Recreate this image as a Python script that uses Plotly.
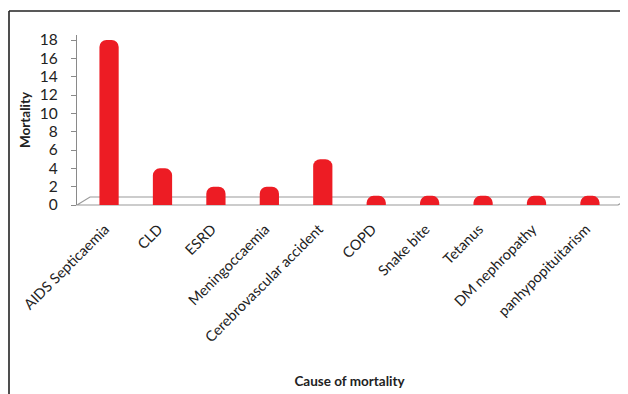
import plotly.graph_objects as go

categories = ["AIDS Septicaemia", "CLD", "ESRD", "Meningoccaemia", "Cerebrovascular accident",
              "COPD", "Snake bite", "Tetanus", "DM nephropathy", "panhypopituitarism"]
mortality = [18, 4, 2, 2, 5, 1, 1, 1, 1, 1]
y_ticks = [0, 2, 4, 6, 8, 10, 12, 14, 16, 18]

# page body has an 8px margin; figure sized so that it fills the 628x394 window
OFF = 8
W, H = 628 - OFF, 394 - OFF
L, R, T, B = 77 - OFF, 6, 35 - OFF, 189


def px(x):  # screen x -> paper
    return (x - OFF - L) / (W - L - R)


def py(y):  # screen y -> paper
    return (H - B - (y - OFF)) / (H - T - B)


fig = go.Figure()
fig.add_trace(go.Bar(
    x=categories, y=mortality,
    marker=dict(color="#ED1C24", cornerradius=7, line=dict(width=0)),
    width=0.36,
))

shapes = [
    # floor (3D base)
    dict(type="path", xref="paper", yref="paper",
         path=f"M {px(77)} {py(205)} L {px(90)} {py(197)} L {px(630)} {py(197)} L {px(618)} {py(205)} Z",
         line=dict(color="#9a9a9a", width=1.2), fillcolor="rgba(0,0,0,0)", layer="below"),
    # outer frame
    dict(type="line", xref="paper", yref="paper",
         x0=px(9), y0=py(400), x1=px(9), y1=py(11),
         line=dict(color="#222222", width=1.6)),
    dict(type="line", xref="paper", yref="paper",
         x0=px(9), y0=py(11), x1=px(640), y1=py(11),
         line=dict(color="#222222", width=1.6)),
]

fig.update_layout(
    width=W, height=H,
    margin=dict(l=L, r=R, t=T, b=B, autoexpand=False),
    paper_bgcolor="white", plot_bgcolor="white",
    showlegend=False,
    shapes=shapes,
    font=dict(family="Lato", size=13, color="#222"),
    xaxis=dict(
        tickangle=-45, showline=False, ticks="", showgrid=False, automargin=False,
        tickfont=dict(size=14.5, color="#222"),
        ticklabelshift=-4, ticklabelstandoff=12,
        title=dict(text="<b>Cause of mortality</b>", font=dict(size=13.5), standoff=32),
        range=[-0.6, 9.6],
    ),
    yaxis=dict(
        range=[0, 18.55], tickvals=y_ticks, showgrid=False, zeroline=False, automargin=False,
        showline=True, linecolor="#8a8a8a", linewidth=1.2,
        ticks="outside", ticklen=5, tickcolor="#8a8a8a",
        tickfont=dict(size=15.5, color="#222"), ticklabelstandoff=10,
        title=dict(text="<b>Mortality</b>", font=dict(size=13.5), standoff=6),
    ),
)

fig.write_html("out.html")
